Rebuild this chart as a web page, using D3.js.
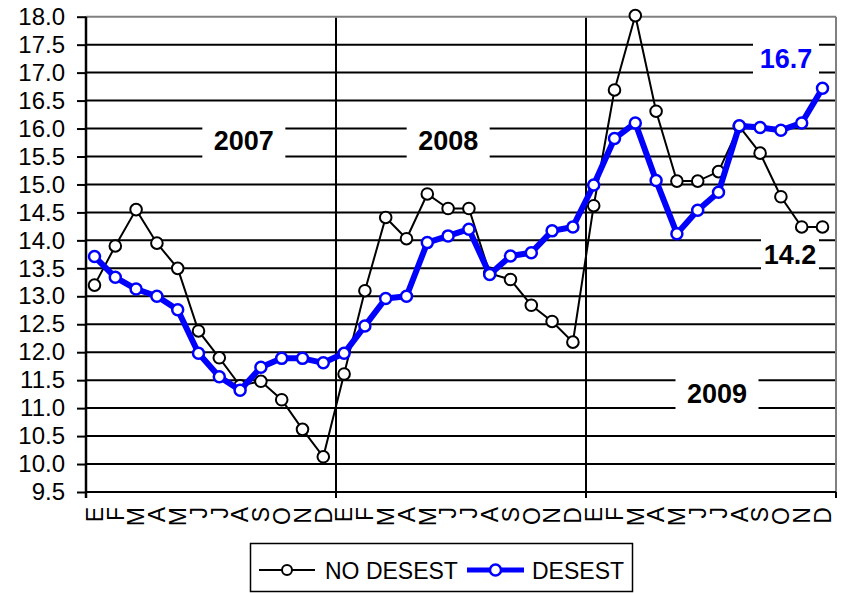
<!DOCTYPE html>
<html>
<head>
<meta charset="utf-8">
<script src="https://cdn.jsdelivr.net/npm/d3@7"></script>
<style>
  body { margin: 0; background: #fff; }
  svg text { font-family: "Liberation Sans", Arial, sans-serif; }
</style>
</head>
<body>
<div id="chart"></div>
<script>
// data
var years = ["2007", "2008", "2009"];
var months = ["E", "F", "M", "A", "M", "J", "J", "A", "S", "O", "N", "D"];
var yTicks = [9.5, 10.0, 10.5, 11.0, 11.5, 12.0, 12.5, 13.0, 13.5, 14.0, 14.5, 15.0, 15.5, 16.0, 16.5, 17.0, 17.5, 18.0];

var noDesest = [
    13.2, 13.9, 14.55, 13.95, 13.5, 12.38, 11.9, 11.4, 11.48, 11.15, 10.62, 10.13,
    11.61, 13.1, 14.41, 14.03, 14.83, 14.57, 14.57, 13.41, 13.3, 12.84, 12.55, 12.18,
    14.62, 16.69, 18.02, 16.31, 15.06, 15.06, 15.23, 16.04, 15.56, 14.78, 14.24, 14.24
];
var desest = [
    13.71, 13.34, 13.13, 13.0, 12.76, 11.98, 11.56, 11.32, 11.73, 11.89, 11.89, 11.81,
    11.98, 12.47, 12.96, 13.0, 13.96, 14.08, 14.2, 13.39, 13.72, 13.78, 14.17, 14.24,
    14.99, 15.82, 16.1, 15.07, 14.12, 14.54, 14.86, 16.05, 16.02, 15.97, 16.1, 16.72
];

var svgWidth = 844;
var svgHeight = 593;

var svg = d3.select("#chart")
    .append("svg")
    .attr("width", svgWidth)
    .attr("height", svgHeight);

// plot box
var plotLeft = 86, plotRight = 836, plotTop = 16.7, plotBottom = 492;

var idx = d3.range(noDesest.length);

// band scale for year separators, point scale for the marks
var xBand = d3.scaleBand().domain(idx).range([plotLeft, plotRight]);
var xPoint = d3.scalePoint().domain(idx).range([94.5, 822.5]);
var y = d3.scaleLinear().domain([9.5, 18]).range([plotBottom, plotTop]);

// horizontal gridlines
svg.append("g")
    .selectAll("line")
    .data(yTicks.filter(d => d > 9.5 && d < 18))
    .enter()
    .append("line")
    .attr("x1", plotLeft)
    .attr("x2", plotRight)
    .attr("y1", d => y(d))
    .attr("y2", d => y(d))
    .attr("stroke", "#000")
    .attr("stroke-width", 2);

// frame: top and right in gray
svg.append("line")
    .attr("x1", plotLeft).attr("x2", plotRight)
    .attr("y1", y(18)).attr("y2", y(18))
    .attr("stroke", "#808080").attr("stroke-width", 2);
svg.append("line")
    .attr("x1", plotRight).attr("x2", plotRight)
    .attr("y1", y(18)).attr("y2", y(9.5))
    .attr("stroke", "#808080").attr("stroke-width", 2);

// year separators
svg.append("g")
    .selectAll("line")
    .data([12, 24])
    .enter()
    .append("line")
    .attr("x1", d => xBand(d))
    .attr("x2", d => xBand(d))
    .attr("y1", y(18) + 1)
    .attr("y2", plotBottom + 6)
    .attr("stroke", "#000")
    .attr("stroke-width", 2);

// y axis
var leftAxis = d3.axisLeft(y)
    .tickValues(yTicks)
    .tickSize(9)
    .tickPadding(12)
    .tickFormat(d3.format(".1f"));

var yAxis = svg.append("g")
    .attr("transform", `translate(${plotLeft},0)`)
    .call(leftAxis);
yAxis.select(".domain").remove();
yAxis.selectAll(".tick line").attr("stroke", "#000").attr("stroke-width", 2);
yAxis.selectAll(".tick text")
    .attr("font-size", "24px")
    .attr("fill", "#000")
    .style("font-family", "'Liberation Sans', Arial, sans-serif");

svg.append("line")
    .attr("x1", plotLeft).attr("x2", plotLeft)
    .attr("y1", y(18)).attr("y2", plotBottom + 6)
    .attr("stroke", "#000").attr("stroke-width", 2.5);

// x axis line and end tick
svg.append("line")
    .attr("x1", plotLeft).attr("x2", plotRight)
    .attr("y1", plotBottom).attr("y2", plotBottom)
    .attr("stroke", "#000").attr("stroke-width", 2);
svg.append("line")
    .attr("x1", plotRight).attr("x2", plotRight)
    .attr("y1", plotBottom).attr("y2", plotBottom + 6)
    .attr("stroke", "#000").attr("stroke-width", 2);

// month letters, rotated
svg.append("g")
    .selectAll("text")
    .data(idx)
    .enter()
    .append("text")
    .attr("transform", d => `translate(${xPoint(d)},507) rotate(-90)`)
    .attr("text-anchor", "end")
    .attr("dy", "0.36em")
    .attr("font-size", "23px")
    .text(d => months[d % 12]);

// annotation boxes
function label(cx, cy, w, txt, color) {
    svg.append("rect")
        .attr("x", cx - w / 2)
        .attr("y", cy - 19)
        .attr("width", w)
        .attr("height", 38)
        .attr("fill", "#fff");
    svg.append("text")
        .attr("x", cx)
        .attr("y", cy + 9.5)
        .attr("text-anchor", "middle")
        .attr("font-size", "27px")
        .attr("font-weight", "bold")
        .attr("fill", color)
        .text(txt);
}

label(xBand(7) + 12, y(15.78), 83, years[0], "#000");
label(xBand(17) + 8, y(15.78), 83, years[1], "#000");
label(xBand(30) + 6, y(11.27), 83, years[2], "#000");
label(xBand(33) + 12.5, y(17.25), 66, d3.format(".1f")(desest[35]), "#0000ff");
label(xBand(33) + 16.5, y(13.75), 58, d3.format(".1f")(noDesest[35]), "#000");

// series
var line = d3.line()
    .x((d, i) => xPoint(i))
    .y(d => y(d));

svg.append("path")
    .datum(noDesest)
    .attr("d", line)
    .attr("fill", "none")
    .attr("stroke", "#000")
    .attr("stroke-width", 2);

svg.append("g")
    .selectAll("circle")
    .data(noDesest)
    .enter()
    .append("circle")
    .attr("cx", (d, i) => xPoint(i))
    .attr("cy", d => y(d))
    .attr("r", 5.8)
    .attr("fill", "#fff")
    .attr("stroke", "#000")
    .attr("stroke-width", 2);

svg.append("path")
    .datum(desest)
    .attr("d", line)
    .attr("fill", "none")
    .attr("stroke", "#0000ff")
    .attr("stroke-width", 6)
    .attr("stroke-linejoin", "round");

svg.append("g")
    .selectAll("circle")
    .data(desest)
    .enter()
    .append("circle")
    .attr("cx", (d, i) => xPoint(i))
    .attr("cy", d => y(d))
    .attr("r", 5.5)
    .attr("fill", "#fff")
    .attr("stroke", "#0000ff")
    .attr("stroke-width", 2.5);

// legend
var legend = svg.append("g");
legend.append("rect")
    .attr("x", 250.5).attr("y", 543.5)
    .attr("width", 382).attr("height", 48)
    .attr("fill", "#fff")
    .attr("stroke", "#000")
    .attr("stroke-width", 1.5);

var legendItems = [
    { name: "NO DESEST", color: "#000", width: 2, x1: 259, x2: 315, tx: 325, r: 5, sw: 2 },
    { name: "DESEST", color: "#0000ff", width: 5, x1: 467, x2: 524, tx: 532, r: 5.5, sw: 2.5 }
];

legendItems.forEach(function (it) {
    legend.append("line")
        .attr("x1", it.x1).attr("x2", it.x2)
        .attr("y1", 570).attr("y2", 570)
        .attr("stroke", it.color)
        .attr("stroke-width", it.width);
    legend.append("circle")
        .attr("cx", (it.x1 + it.x2) / 2)
        .attr("cy", 570)
        .attr("r", it.r)
        .attr("fill", "#fff")
        .attr("stroke", it.color)
        .attr("stroke-width", it.sw);
    legend.append("text")
        .attr("x", it.tx)
        .attr("y", 578.5)
        .attr("font-size", "23px")
        .text(it.name);
});
</script>
</body>
</html>
